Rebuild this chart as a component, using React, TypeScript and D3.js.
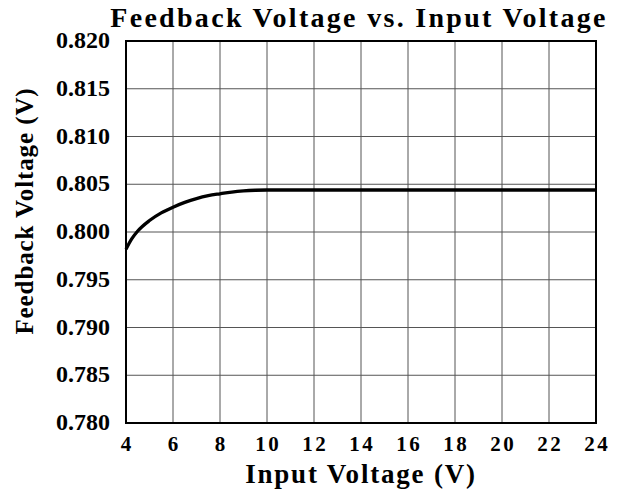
import React from "react";
import * as d3 from "d3";

const xTicks = [4, 6, 8, 10, 12, 14, 16, 18, 20, 22, 24];
const yTicks = [0.78, 0.785, 0.79, 0.795, 0.8, 0.805, 0.81, 0.815, 0.82];
const inputV = [4, 4.25, 4.5, 5, 5.5, 6, 6.5, 7, 7.5, 8, 8.5, 9, 9.5, 10, 12, 14, 16, 18, 20, 22, 24];
const feedbackV = [0.7982, 0.7993, 0.8001, 0.8012, 0.8020, 0.8026, 0.8031, 0.8035, 0.8038, 0.8040, 0.80418, 0.8043, 0.80437, 0.8044, 0.8044, 0.8044, 0.8044, 0.8044, 0.8044, 0.8044, 0.8044];

export default function App() {
  const L = 126, R = 596, T = 41, B = 423;
  const x = d3.scaleLinear().domain([4, 24]).range([L, R]);
  const y = d3.scaleLinear().domain([0.78, 0.82]).range([B, T]);
  const line = d3.line<number>().x((_, i) => x(inputV[i])).y((d) => y(d)).curve(d3.curveMonotoneX);
  const font = "'Liberation Serif', 'Times New Roman', serif";
  return (
    <svg width={618} height={491} style={{ position: "absolute", left: 0, top: 0, background: "#fff" }} fontFamily={font}>
      <rect x={0} y={0} width={618} height={491} fill="#fff" />
      {xTicks.slice(1, -1).map((t) => (
        <line key={"gx" + t} x1={x(t)} x2={x(t)} y1={T} y2={B} stroke="#555" strokeWidth={1} />
      ))}
      {yTicks.slice(1, -1).map((t) => (
        <line key={"gy" + t} x1={L} x2={R} y1={y(t)} y2={y(t)} stroke="#555" strokeWidth={1} />
      ))}
      <rect x={L} y={T} width={R - L} height={B - T} fill="none" stroke="#000" strokeWidth={2} />
      <path d={line(feedbackV) || ""} fill="none" stroke="#000" strokeWidth={3.3} />
      {xTicks.map((t) => (
        <text key={"tx" + t} x={x(t) + 1.2} y={451} textAnchor="middle" fontSize={21} fontWeight="bold" letterSpacing={2.5}>{t}</text>
      ))}
      {yTicks.map((t) => (
        <text key={"ty" + t} x={110} y={y(t) + 7} textAnchor="end" fontSize={24} fontWeight="bold">{t.toFixed(3)}</text>
      ))}
      <text x={359} y={27} textAnchor="middle" fontSize={28} fontWeight="bold" letterSpacing={2.3}>Feedback Voltage vs. Input Voltage</text>
      <text x={361} y={483} textAnchor="middle" fontSize={27} fontWeight="bold" letterSpacing={1.8}>Input Voltage (V)</text>
      <text transform={`translate(33, 211) rotate(-90)`} textAnchor="middle" fontSize={25} fontWeight="bold" letterSpacing={0.9}>Feedback Voltage (V)</text>
    </svg>
  );
}
